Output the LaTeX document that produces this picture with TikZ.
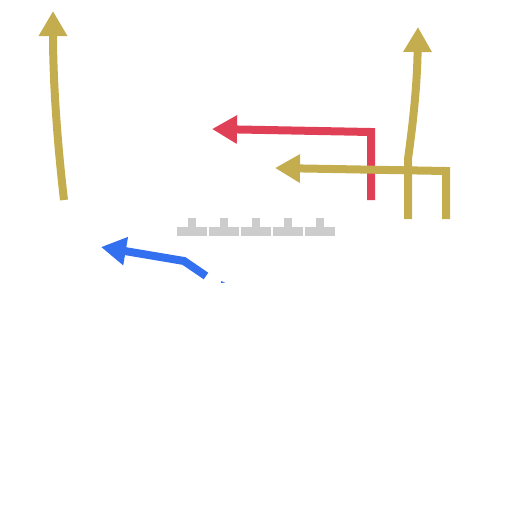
\documentclass[tikz,border=0pt]{standalone}
\usetikzlibrary{arrows.meta}
\definecolor{routegold}{HTML}{C4AD4E}
\definecolor{routered}{HTML}{E04055}
\definecolor{routeblue}{HTML}{3370F0}
\definecolor{linegray}{HTML}{CCCCCC}
\tikzset{
  route/.style={line width=8pt, line join=miter, -{Triangle[length=25pt,width=27pt]}},
  lineman/.style={fill=linegray, draw=none}
}
\begin{document}
\begin{tikzpicture}[x=1pt,y=-1pt]
\useasboundingbox (0,0) rectangle (512,512);
% linemen
\foreach \cx [count=\i] in {192,224,256,288,320}{
  \fill[linegray] (\cx-15,227) rectangle (\cx+15,236);
  \fill[linegray] (\cx-4,218) rectangle (\cx+4,227);
}
% left gold route
\coordinate (lg0) at (64,200);
\coordinate (lg1) at (53,11);
\draw[route, routegold] (lg0) .. controls (57,140) and (53,80) .. (lg1);
% red route
\coordinate (r0) at (371,200);
\coordinate (r1) at (371,132);
\coordinate (r2) at (212,129);
\draw[route, routered] (r0) -- (r1) -- (r2);
% right gold route (vertical with release)
\coordinate (g0) at (408,219);
\coordinate (g1) at (408,159);
\coordinate (g2) at (418,27);
\draw[route, routegold] (g0) -- (g1) .. controls (412,130) and (417,90) .. (g2);
% right gold route (in-cut)
\coordinate (h0) at (446,219);
\coordinate (h1) at (446,171);
\coordinate (h2) at (275,168);
\draw[route, routegold] (h0) -- (h1) -- (h2);
% blue route
\coordinate (b0) at (206,276);
\coordinate (b1) at (184,261);
\coordinate (b2) at (101,247);
\draw[route, routeblue] (b0) -- (b1) -- (b2);
\fill[routeblue] (221,281) -- (225,282.5) -- (221,283) -- cycle;
\end{tikzpicture}
\end{document}
